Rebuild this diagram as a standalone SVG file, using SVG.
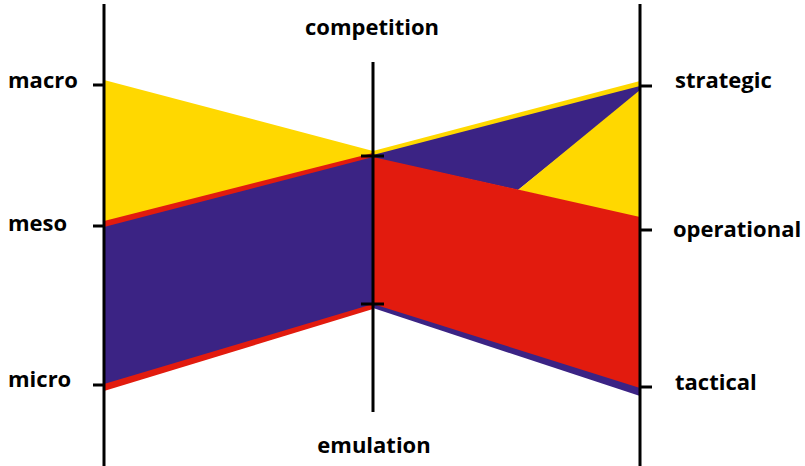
<svg xmlns="http://www.w3.org/2000/svg" width="805" height="466" viewBox="0 0 805 466">
  <style>
    .y { fill: #FFD800; }
    .p { fill: #3B2384; }
    .r { fill: #E21B0E; }
    .ax { stroke: #000; stroke-width: 3; fill: none; }
    .lbl { font-family: "Open Sans", "DejaVu Sans", sans-serif; font-weight: bold; font-size: 22px; fill: #000; }
  </style>
  <rect width="805" height="466" fill="#fff"/>
  <g id="bands-left">
    <polygon class="y" points="104,80 373,151 373,154 104,222"/>
    <polygon class="r" points="104,221 373,153 373,158 104,228"/>
    <polygon class="p" points="104,227 373,157 373,305 104,385"/>
    <polygon class="r" points="104,384 373,304 373,309 104,391"/>
  </g>
  <g id="bands-right">
    <polygon class="y" points="373,151 640,81 640,88 373,156"/>
    <polygon class="p" points="373,155 640,86 640,92 518,190 373,158"/>
    <polygon class="y" points="640,90 518,190 640,218"/>
    <polygon class="r" points="373,157 640,217 640,389 373,305"/>
    <polygon class="p" points="373,304 640,388 640,396 373,308"/>
  </g>
  <g id="connectors">
    <line class="ax" x1="104" y1="4" x2="104" y2="466"/>
    <line class="ax" x1="93" y1="85" x2="104" y2="85"/>
    <line class="ax" x1="93" y1="226" x2="104" y2="226"/>
    <line class="ax" x1="93" y1="385" x2="104" y2="385"/>
    <line class="ax" x1="373" y1="62" x2="373" y2="412"/>
    <line class="ax" x1="361" y1="156" x2="384" y2="156"/>
    <line class="ax" x1="361" y1="304" x2="384" y2="304"/>
    <line class="ax" x1="640" y1="4" x2="640" y2="466"/>
    <line class="ax" x1="640" y1="86" x2="652" y2="86"/>
    <line class="ax" x1="640" y1="230" x2="652" y2="230"/>
    <line class="ax" x1="640" y1="387" x2="652" y2="387"/>
  </g>
  <g id="label-macro"><text class="lbl" x="8" y="88">macro</text></g>
  <g id="label-meso"><text class="lbl" x="8" y="231">meso</text></g>
  <g id="label-micro"><text class="lbl" x="8" y="387">micro</text></g>
  <g id="label-competition"><text class="lbl" x="372" y="35" text-anchor="middle">competition</text></g>
  <g id="label-emulation"><text class="lbl" x="374" y="453" text-anchor="middle">emulation</text></g>
  <g id="label-strategic"><text class="lbl" x="675" y="88">strategic</text></g>
  <g id="label-operational"><text class="lbl" x="673" y="237">operational</text></g>
  <g id="label-tactical"><text class="lbl" x="675" y="390">tactical</text></g>
</svg>
